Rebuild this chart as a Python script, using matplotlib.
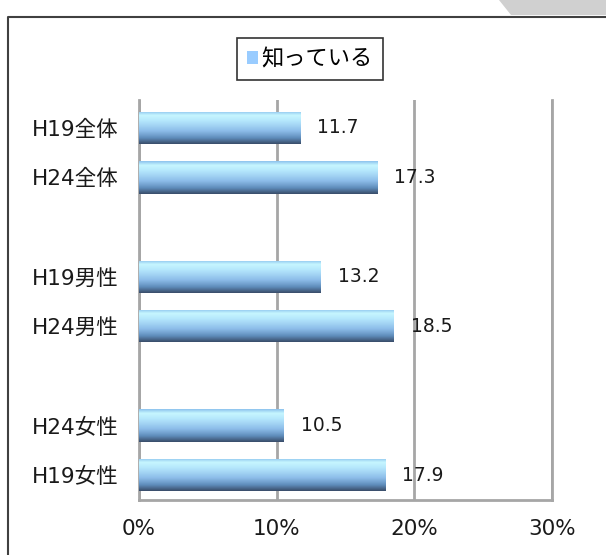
import matplotlib
matplotlib.use('Agg')
import matplotlib.pyplot as plt
import numpy as np
from matplotlib.colors import LinearSegmentedColormap
from matplotlib.patches import Patch, Polygon
from matplotlib.lines import Line2D

# wide latin digits from DejaVu, kana/kanji from Noto CJK
plt.rcParams['font.family'] = ['DejaVu Sans', 'Noto Sans CJK JP']

# data (top to bottom)
categories = ['H19全体', 'H24全体', 'H19男性', 'H24男性', 'H24女性', 'H19女性']
values = [11.7, 17.3, 13.2, 18.5, 10.5, 17.9]
slots = [0, 1, 3, 4, 6, 7]          # empty rows between groups
xticks = [0, 10, 20, 30]
series_name = '知っている'

W, H = 606, 555
fig = plt.figure(figsize=(W / 100, H / 100), dpi=100)
ax = fig.add_axes([139 / W, 1 - 500 / H, (552 - 139) / W, 400 / H])

# gradient for the 3D-ish bars, top -> bottom
grad_cmap = LinearSegmentedColormap.from_list('bar', [
    (0.00, '#8ec4ee'), (0.12, '#c6f6ff'), (0.30, '#b4e6fc'),
    (0.60, '#8dbde9'), (0.82, '#5f8dbb'), (1.00, '#3a4d6a')])
grad = grad_cmap(np.linspace(0, 1, 64))[:, None, :3]

bh = 0.65
bars = ax.barh(slots, values, height=bh, color='none', zorder=3)
off = matplotlib.transforms.ScaledTranslation(17 / 100, 0, fig.dpi_scale_trans)
for b, y, v in zip(bars, slots, values):
    im = ax.imshow(grad, extent=[0, v, y + bh / 2, y - bh / 2],
                   aspect='auto', interpolation='bilinear', zorder=3)
    im.set_clip_path(b)
    ax.text(v, y, f'{v:.1f}', va='center', ha='left', fontsize=13.5,
            color='#1a1a1a', zorder=4, transform=ax.transData + off)

ax.set_xlim(0, 30)
ax.set_ylim(7.5, -0.56)
ax.set_xticks(xticks)
ax.set_xticklabels([f'{t}%' for t in xticks], fontsize=15.5, color='#1a1a1a')
ax.set_yticks(slots)
ax.set_yticklabels(categories, fontsize=15.5, color='#1a1a1a')
ax.tick_params(axis='both', length=0)
ax.tick_params(axis='x', pad=14)
ax.tick_params(axis='y', pad=15)

ax.grid(axis='x', color='#a6a6a6', linewidth=2, zorder=1)
ax.set_axisbelow(True)
for side in ['left', 'bottom', 'right']:
    ax.spines[side].set_color('#a6a6a6')
    ax.spines[side].set_linewidth(2)
ax.spines['top'].set_visible(False)

leg = fig.legend([Patch(facecolor='#99ccff', edgecolor='none')], [series_name],
                 loc='center', bbox_to_anchor=(310 / W, 1 - 59 / H),
                 fontsize=16, fancybox=False, handlelength=0.5, handleheight=0.5,
                 handletextpad=0.15, borderpad=0.45, framealpha=1)
leg.get_frame().set_edgecolor('#333333')
leg.get_frame().set_linewidth(1.2)

# outer chart frame and the grey tab at the top right
fig.add_artist(Line2D([8 / W, 8 / W, 1.01], [-0.01, 1 - 17 / H, 1 - 17 / H],
                      color='#404040', linewidth=1.5))
fig.add_artist(Polygon([(499 / W, 1), (1, 1), (1, 1 - 15 / H), (511 / W, 1 - 15 / H)],
                       closed=True, facecolor='#d0d0d0', edgecolor='none'))

fig.savefig('out.png', dpi=100)
